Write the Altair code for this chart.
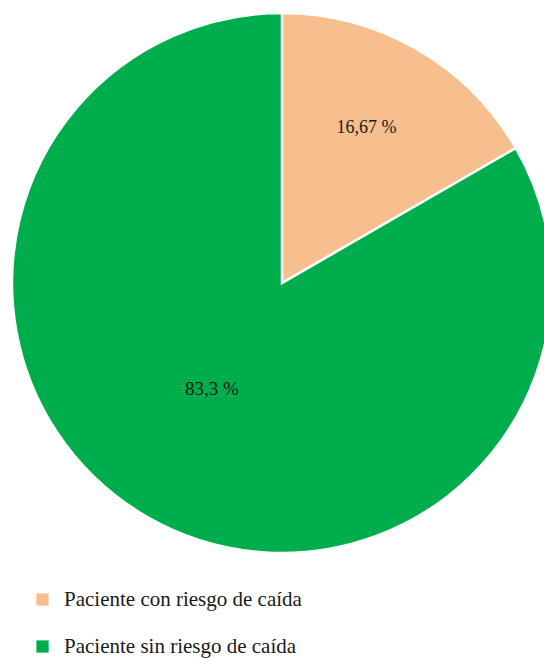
import altair as alt
import pandas as pd

categories = ["Paciente con riesgo de caída", "Paciente sin riesgo de caída"]
values = [16.67, 83.33]
labels = ["16,67 %", "83,3 %"]
order = [1, 2]
colors = ["#F8BF8E", "#00AD4C"]

SERIF = "'Liberation Serif', 'Times New Roman', Times, serif"

df = pd.DataFrame({"cat": categories, "val": values, "label": labels, "ord": order})

base = alt.Chart(df).encode(
    theta=alt.Theta("val:Q", stack=True),
    order=alt.Order("ord:Q"),
    x=alt.value(282),
    y=alt.value(283),
)

pie = base.mark_arc(outerRadius=270, stroke="white", strokeWidth=2.5).encode(
    color=alt.Color(
        "cat:N",
        scale=alt.Scale(domain=categories, range=colors),
        sort=categories,
        legend=alt.Legend(
            title=None,
            orient="none",
            legendX=32,
            legendY=589,
            symbolType="square",
            symbolSize=150,
            symbolStrokeWidth=0,
            labelFont=SERIF,
            labelFontSize=21,
            labelColor="#1a1a1a",
            labelOffset=11,
            rowPadding=25,
            labelLimit=400,
        ),
    )
)

t1 = base.mark_text(radius=179, dx=-5, font=SERIF, fontSize=18, color="#1a1a1a").encode(
    text=alt.condition(alt.datum.ord == 1, "label:N", alt.value(""))
)
t2 = base.mark_text(radius=130, dx=-5, dy=-7, font=SERIF, fontSize=19, color="#1a1a1a").encode(
    text=alt.condition(alt.datum.ord == 2, "label:N", alt.value(""))
)

chart = (
    alt.layer(pie, t1, t2)
    .properties(width=544, height=658, autosize=alt.AutoSizeParams(type="none"), padding=0)
    .configure_view(stroke=None)
)

chart.save("out.html", embed_options={"renderer": "svg", "actions": False})
